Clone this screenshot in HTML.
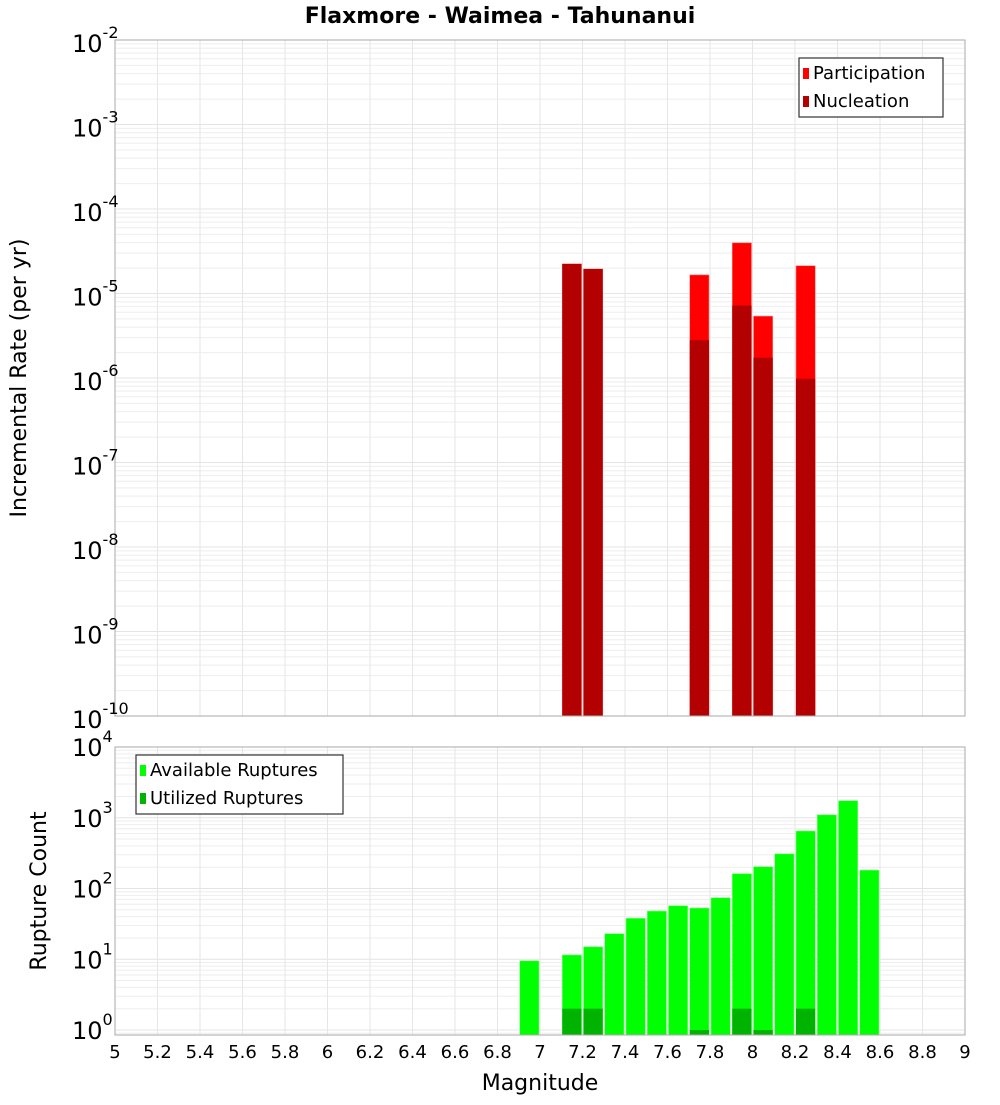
<!DOCTYPE html>
<html><head><meta charset="utf-8"><style>
body{margin:0;background:#fff;font-family:"Liberation Sans","DejaVu Sans",sans-serif}
svg text{font-family:"DejaVu Sans","Liberation Sans",sans-serif}
</style></head><body>
<svg id="c" width="1000" height="1100" xmlns="http://www.w3.org/2000/svg">
<text x="500" y="23" text-anchor="middle" font-size="22" font-weight="bold">Flaxmore - Waimea - Tahunanui</text>
<text transform="translate(26,378) rotate(-90)" text-anchor="middle" font-size="22">Incremental Rate (per yr)</text>
<text transform="translate(46,891) rotate(-90)" text-anchor="middle" font-size="22">Rupture Count</text>
<text x="540" y="1090" text-anchor="middle" font-size="22">Magnitude</text>
</svg>
<script>
const mags=[7.15,7.25,7.75,7.95,8.05,8.25];
const participation=[2.24e-5,1.95e-5,1.66e-5,3.98e-5,5.4e-6,2.13e-5];
const nucleation=[2.24e-5,1.95e-5,2.8e-6,7.2e-6,1.74e-6,9.8e-7];
const countMags=[6.95,7.15,7.25,7.35,7.45,7.55,7.65,7.75,7.85,7.95,8.05,8.15,8.25,8.35,8.45,8.55];
const available=[9.5,11.5,15,23,38,48,57,53,74,162,203,309,650,1100,1740,182];
const utilMags=[7.15,7.25,7.75,7.95,8.05,8.25];
const utilized=[2,2,1,2,1,2];
const xTicks=[5,5.2,5.4,5.6,5.8,6,6.2,6.4,6.6,6.8,7,7.2,7.4,7.6,7.8,8,8.2,8.4,8.6,8.8,9];
const topExps=[-10,-9,-8,-7,-6,-5,-4,-3,-2];
const botExps=[0,1,2,3,4];

const NS="http://www.w3.org/2000/svg",svg=document.getElementById('c');
function el(t,a,p){const e=document.createElementNS(NS,t);for(const k in a)e.setAttribute(k,a[k]);(p||svg).appendChild(e);return e;}
const X0=115,X1=965;
const xs=m=>X0+(m-5)/4*(X1-X0);
const T0=40,T1=716;
const yTop=v=>T0+(-2-Math.log10(v))*(T1-T0)/8;
const B0=747,B1=1035,BD=70.75;
const yBot=v=>1030-Math.log10(v)*BD;
const BW=0.1*(X1-X0)/4;

function grid(top,bot,exps,yf,name){
  const g=el('g',{});
  
  
  for(let i=0;i<exps.length;i++){const e=exps[i];
    for(let k=1;k<10;k++){const y=yf(k*Math.pow(10,e));if(y<top-0.5||y>bot+0.5)continue;
      el('line',{x1:X0,x2:X1,y1:y,y2:y,stroke:k==1?'#e4e4e4':'#eeeeee','stroke-width':1},g);}}
  for(const t of xTicks){const x=xs(t);el('line',{x1:x,x2:x,y1:top,y2:bot,stroke:'#e6e6e6'},g);}
}
// top plot
el('rect',{x:X0,y:T0,width:X1-X0,height:T1-T0,fill:'#fff'});
grid(T0,T1,topExps.concat([-11]),yTop,'top-grid');
for(let i=0;i<mags.length;i++){
  const x=xs(mags[i])-BW/2+1;
  const r=el('rect',{x:x,y:yTop(participation[i]),width:BW-2,height:T1-yTop(participation[i]),fill:'#ff0000',stroke:'#ff8080','stroke-width':0.6});
  
  
  const n=el('rect',{x:x,y:yTop(nucleation[i]),width:BW-2,height:T1-yTop(nucleation[i]),fill:'#b30000'});
  
  
}
el('rect',{x:X0,y:T0,width:X1-X0,height:T1-T0,fill:'none',stroke:'#aaa'});
for(const e of topExps){const y=yTop(Math.pow(10,e));
  const t=el('text',{x:72,y:y+12,'font-size':24});
  
  
  t.innerHTML='10<tspan dy="-14" font-size="16">'+e+'</tspan>';}
// bottom plot
el('rect',{x:X0,y:B0,width:X1-X0,height:B1-B0,fill:'#fff'});
grid(B0,B1,[-1].concat(botExps),yBot,'bottom-grid');
for(let i=0;i<countMags.length;i++){
  const x=xs(countMags[i])-BW/2+1;
  const r=el('rect',{x:x,y:yBot(available[i]),width:BW-2,height:B1-yBot(available[i]),fill:'#00ff00',stroke:'#80ff80','stroke-width':0.6});
  
  
}
for(let i=0;i<utilMags.length;i++){
  const x=xs(utilMags[i])-BW/2+1;
  const r=el('rect',{x:x,y:yBot(utilized[i]),width:BW-2,height:B1-yBot(utilized[i]),fill:'#00b300'});
  
  
}
el('rect',{x:X0,y:B0,width:X1-X0,height:B1-B0,fill:'none',stroke:'#aaa'});
for(const e of botExps){const y=yBot(Math.pow(10,e));
  const t=el('text',{x:72,y:y+9,'font-size':24});
  
  
  t.innerHTML='10<tspan dy="-14" font-size="16">'+e+'</tspan>';}
for(const v of xTicks){
  const t=el('text',{x:xs(v),y:1058,'font-size':18,'text-anchor':'middle'});
  
  
  t.textContent=String(v);}
// legends
function legend(x,y,w,items,name){
  const g=el('g',{});
  
  
  el('rect',{x:x,y:y,width:w,height:59,fill:'#fff',stroke:'#333','stroke-width':1.2},g);
  items.forEach((it,i)=>{
    el('rect',{x:x+4,y:y+10+i*28,width:6,height:11,fill:it[1]},g);
    const t=el('text',{x:x+14,y:y+21+i*28,'font-size':18},g);
    t.textContent=it[0];});
}
legend(799,58,144,[['Participation','#ff0000'],['Nucleation','#b30000']],'top-legend');
legend(136,755,207,[['Available Ruptures','#00ff00'],['Utilized Ruptures','#00b300']],'bottom-legend');
</script>
</body></html>
